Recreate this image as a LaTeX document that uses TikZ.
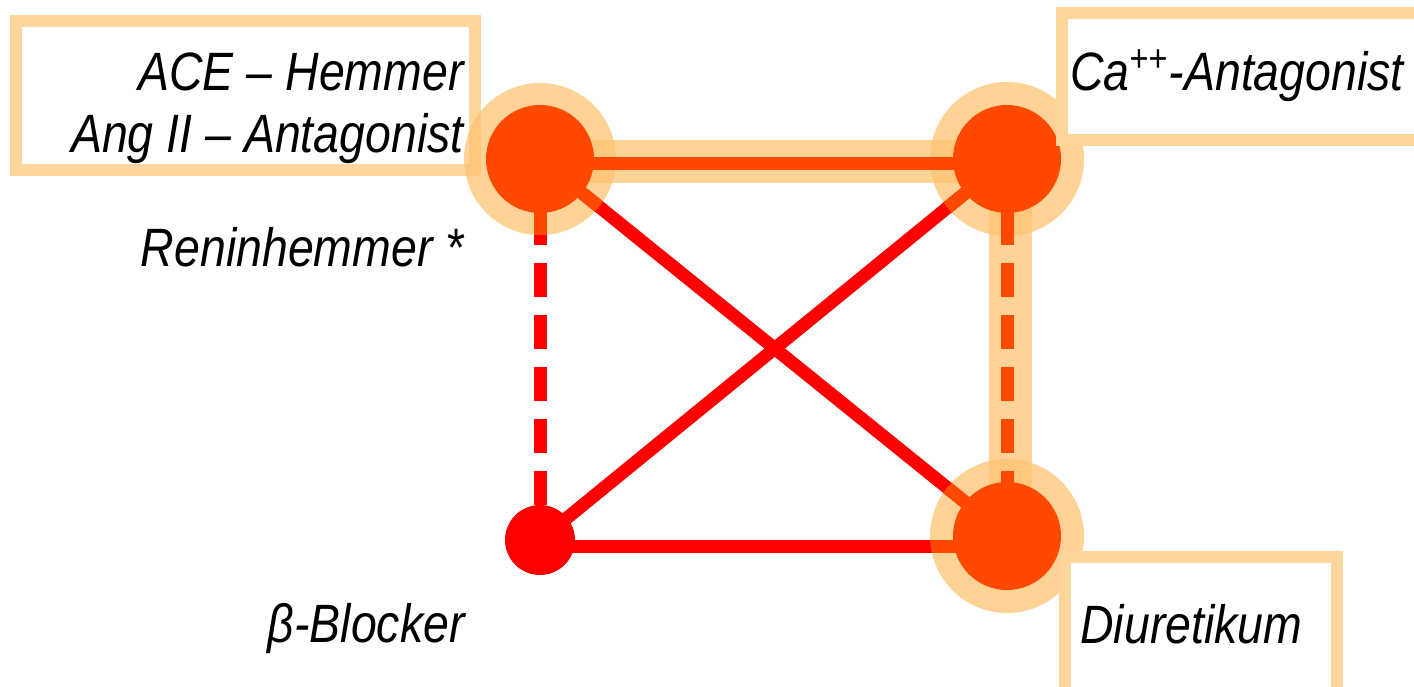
\documentclass[tikz,border=0pt]{standalone}
\usepackage{fontspec}
\setmainfont[FakeStretch=0.86]{Liberation Sans}
\definecolor{peach}{RGB}{255,195,115}
\definecolor{boxpeach}{RGB}{254,213,155}
\definecolor{dotred}{RGB}{255,72,0}
\definecolor{linered}{RGB}{255,0,0}
\pgfdeclarelayer{back}
\pgfdeclarelayer{halolayer}
\pgfdeclarelayer{wirelayer}
\pgfdeclarelayer{front}
\pgfsetlayers{back,halolayer,wirelayer,main,front}
\tikzset{
  bigdot/.style={circle,fill=dotred,inner sep=0pt,minimum size=54pt},
  smalldot/.style={circle,fill=linered,inner sep=0pt,minimum size=35pt},
  halo/.style={fill=peach,fill opacity=0.75},
  band/.style={draw=peach,draw opacity=0.75,line width=21.5pt},
  wire/.style={linered,line width=6.5pt},
  dashwire/.style={wire,dash pattern=on 17pt off 9pt},
  labelbox/.style={draw=boxpeach,line width=6pt,fill=white},
  lbl/.style={inner sep=0pt,font=\fontsize{27}{32}\selectfont\itshape}
}
\begin{document}
\begin{tikzpicture}[x=0.5pt,y=0.5pt,yscale=-1]
\useasboundingbox (0,0) rectangle (1414,686);
% Dots
\node[bigdot] (acenode) at (540,159) {};
\node[bigdot] (canode) at (1007,159) {};
\node[bigdot] (diunode) at (1007,536) {};
\node[smalldot] (betanode) at (540,540) {};
% Box round the left labels
\begin{pgfonlayer}{back}
\draw[labelbox] (16,21) rectangle (475,170);
\end{pgfonlayer}
% Halos and bands
\begin{pgfonlayer}{halolayer}
\draw[band] ([yshift=1pt]acenode.center) -- ([yshift=1pt]canode.center);
\draw[band] ([xshift=1.5pt]canode.center) -- ([xshift=1.5pt]diunode.center);
\fill[halo] (acenode) circle (76);
\fill[halo] (canode) circle (77);
\fill[halo] (diunode) circle (77);
\end{pgfonlayer}
% Connectors
\begin{pgfonlayer}{wirelayer}
\draw[wire,dotred] ([yshift=2pt]acenode.center) -- ([yshift=2pt]canode.center);
\draw[dashwire,dotred] (canode.center) -- (diunode.center);
\draw[dashwire] (acenode.center) -- (betanode.center);
\draw[wire] (acenode.center) -- (diunode.center);
\draw[wire] (betanode.center) -- (canode.center);
\draw[wire] ([yshift=3pt]betanode.center) -- ([yshift=3pt]betanode.center -| diunode.center);
\begin{scope}
\clip (acenode) circle (76) (canode) circle (77) (diunode) circle (77);
\draw[dashwire,dotred] (acenode.center) -- (betanode.center);
\draw[wire,dotred] (acenode.center) -- (diunode.center);
\draw[wire,dotred] (betanode.center) -- (canode.center);
\draw[wire,dotred] ([yshift=3pt]betanode.center) -- ([yshift=3pt]betanode.center -| diunode.center);
\end{scope}
\end{pgfonlayer}
% Boxes on the right and the texts
\begin{pgfonlayer}{front}
\draw[labelbox] (1062,13) rectangle (1440,140);
\draw[labelbox] (1065,557) rectangle (1337,700);
\node[lbl,anchor=base east] (acetext) at (464,90) {ACE – Hemmer};
\node[lbl,anchor=base east] (angtext) at (464,152) {Ang II – Antagonist};
\node[lbl,anchor=base east] (renintext) at (464,266) {Reninhemmer *};
\node[lbl,anchor=base east] (betatext) at (465,642) {β-Blocker};
\node[lbl,anchor=base west] (catext) at (1070,90) {Ca\textsuperscript{++}-Antagonist};
\node[lbl,anchor=base west] (diutext) at (1080,643) {Diuretikum};
\end{pgfonlayer}
\end{tikzpicture}
\end{document}
